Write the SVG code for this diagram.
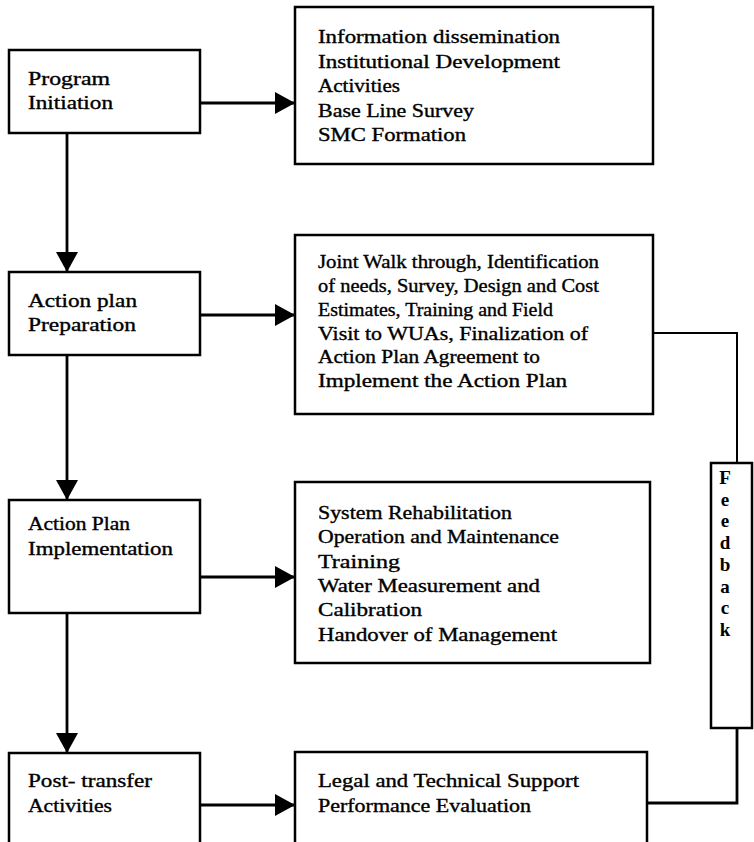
<svg xmlns="http://www.w3.org/2000/svg" width="754" height="842" viewBox="0 0 754 842">
<defs>
<style>
.box{fill:#fff;stroke:#000;stroke-width:2.5}
.t{font-family:"Liberation Serif","Times New Roman",serif;font-size:18px;fill:#000;stroke:#000;stroke-width:0.35}
.fb{font-family:"Liberation Serif","Times New Roman",serif;font-size:19px;font-weight:bold;fill:#000;text-anchor:middle}
.ln{fill:none;stroke:#000;stroke-width:2.8}
.fl{fill:none;stroke:#000;stroke-width:2}
</style>
<marker id="ah" markerWidth="20" markerHeight="22" refX="20" refY="11" orient="auto" markerUnits="userSpaceOnUse">
<path d="M0,0 L20,11 L0,22 Z" fill="#000"/>
</marker>
</defs>
<rect width="754" height="842" fill="#fff"/>

<g id="connectors">
<line class="ln" x1="67" y1="133" x2="67" y2="272" marker-end="url(#ah)"/>
<line class="ln" x1="67" y1="355" x2="67" y2="500" marker-end="url(#ah)"/>
<line class="ln" x1="67" y1="613" x2="67" y2="753" marker-end="url(#ah)"/>
<line class="ln" x1="200" y1="103" x2="295" y2="103" marker-end="url(#ah)"/>
<line class="ln" x1="200" y1="315" x2="295" y2="315" marker-end="url(#ah)"/>
<line class="ln" x1="200" y1="577" x2="295" y2="577" marker-end="url(#ah)"/>
<line class="ln" x1="200" y1="805" x2="295" y2="805" marker-end="url(#ah)"/>
<polyline class="fl" points="653,333 737,333 737,463"/>
<polyline class="ln" points="737,728 737,803 648,803"/>
</g>

<g id="program-initiation">
<rect class="box" x="9" y="50" width="191" height="83"/>
<text class="t" x="28" y="85" textLength="82" lengthAdjust="spacingAndGlyphs">Program</text>
<text class="t" x="28" y="109" textLength="85" lengthAdjust="spacingAndGlyphs">Initiation</text>
</g>

<g id="initiation-activities">
<rect class="box" x="295" y="7" width="358" height="157"/>
<text class="t" x="318" y="43" textLength="242" lengthAdjust="spacingAndGlyphs">Information dissemination</text>
<text class="t" x="318" y="68" textLength="242" lengthAdjust="spacingAndGlyphs">Institutional Development</text>
<text class="t" x="318" y="92" textLength="82" lengthAdjust="spacingAndGlyphs">Activities</text>
<text class="t" x="318" y="117" textLength="156" lengthAdjust="spacingAndGlyphs">Base Line Survey</text>
<text class="t" x="318" y="141" textLength="148" lengthAdjust="spacingAndGlyphs">SMC Formation</text>
</g>

<g id="action-plan-preparation">
<rect class="box" x="9" y="272" width="191" height="83"/>
<text class="t" x="28" y="307" textLength="109" lengthAdjust="spacingAndGlyphs">Action plan</text>
<text class="t" x="28" y="331" textLength="108" lengthAdjust="spacingAndGlyphs">Preparation</text>
</g>

<g id="preparation-activities">
<rect class="box" x="295" y="235" width="358" height="179"/>
<text class="t" x="318" y="268" textLength="281" lengthAdjust="spacingAndGlyphs">Joint Walk through, Identification</text>
<text class="t" x="318" y="292" textLength="281" lengthAdjust="spacingAndGlyphs">of needs, Survey, Design and Cost</text>
<text class="t" x="318" y="315.5" textLength="235" lengthAdjust="spacingAndGlyphs">Estimates, Training and Field</text>
<text class="t" x="318" y="339.5" textLength="270" lengthAdjust="spacingAndGlyphs">Visit to WUAs, Finalization of</text>
<text class="t" x="318" y="363" textLength="222" lengthAdjust="spacingAndGlyphs">Action Plan Agreement to</text>
<text class="t" x="318" y="386.5" textLength="249" lengthAdjust="spacingAndGlyphs">Implement the Action Plan</text>
</g>

<g id="action-plan-implementation">
<rect class="box" x="9" y="500" width="191" height="113"/>
<text class="t" x="28" y="530" textLength="102" lengthAdjust="spacingAndGlyphs">Action Plan</text>
<text class="t" x="28" y="555" textLength="145" lengthAdjust="spacingAndGlyphs">Implementation</text>
</g>

<g id="implementation-activities">
<rect class="box" x="295" y="482" width="355" height="181"/>
<text class="t" x="318" y="518.5" textLength="194" lengthAdjust="spacingAndGlyphs">System Rehabilitation</text>
<text class="t" x="318" y="543" textLength="241" lengthAdjust="spacingAndGlyphs">Operation and Maintenance</text>
<text class="t" x="318" y="567.5" textLength="82" lengthAdjust="spacingAndGlyphs">Training</text>
<text class="t" x="318" y="591.5" textLength="222" lengthAdjust="spacingAndGlyphs">Water Measurement and</text>
<text class="t" x="318" y="616" textLength="104" lengthAdjust="spacingAndGlyphs">Calibration</text>
<text class="t" x="318" y="640.5" textLength="239" lengthAdjust="spacingAndGlyphs">Handover of Management</text>
</g>

<g id="post-transfer-activities">
<rect class="box" x="9" y="753" width="191" height="100"/>
<text class="t" x="28" y="787" textLength="124" lengthAdjust="spacingAndGlyphs">Post- transfer</text>
<text class="t" x="28" y="812" textLength="84" lengthAdjust="spacingAndGlyphs">Activities</text>
</g>

<g id="post-transfer-support">
<rect class="box" x="295" y="752" width="352" height="100"/>
<text class="t" x="318" y="787" textLength="261" lengthAdjust="spacingAndGlyphs">Legal and Technical Support</text>
<text class="t" x="318" y="812" textLength="213" lengthAdjust="spacingAndGlyphs">Performance Evaluation</text>
</g>

<g id="feedback">
<rect class="box" x="711" y="463" width="41" height="265"/>
<text class="fb" x="725" y="484">F</text>
<text class="fb" x="725" y="505.7">e</text>
<text class="fb" x="725" y="527.4">e</text>
<text class="fb" x="725" y="549">d</text>
<text class="fb" x="725" y="570.8">b</text>
<text class="fb" x="725" y="592.5">a</text>
<text class="fb" x="725" y="614.2">c</text>
<text class="fb" x="725" y="636">k</text>
</g>
</svg>
